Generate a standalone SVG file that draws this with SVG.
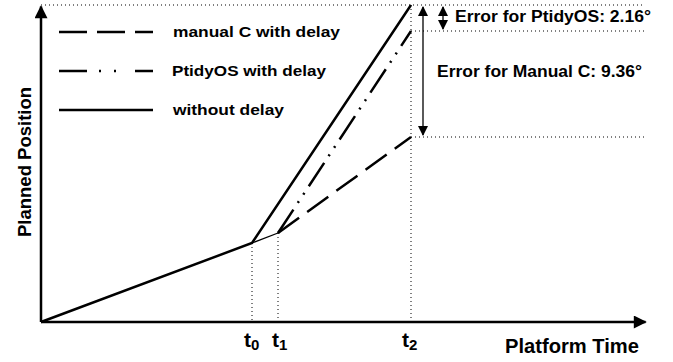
<svg xmlns="http://www.w3.org/2000/svg" width="673" height="362" viewBox="0 0 673 362">
<style>
text{font-family:"Liberation Sans",Arial,sans-serif;font-weight:bold;fill:#000}
.ax{stroke:#000;stroke-width:2.5;fill:none}
.ln{stroke:#000;stroke-width:2.5;fill:none}
.dot{stroke:#000;stroke-width:1;stroke-dasharray:1 3;fill:none}
.thin{stroke:#000;stroke-width:1.3;fill:none}
</style>
<defs>
<marker id="ah" viewBox="0 0 10 10" refX="9" refY="5" markerWidth="10" markerHeight="10" markerUnits="userSpaceOnUse" orient="auto-start-reverse"><path d="M0,0 L10,5 L0,10 z" fill="#000"/></marker>
<marker id="big" viewBox="0 0 10 10" refX="9" refY="5" markerWidth="14" markerHeight="13" markerUnits="userSpaceOnUse" orient="auto"><path d="M0,0 L10,5 L0,10 z" fill="#000"/></marker>
</defs>
<g id="guides">
<path class="dot" d="M41,5 H645 M411,31 H645 M411,137 H645 M252,243 V322 M278,233 V322 M411,5 V322"/>
</g>
<g id="axes">
<path class="ax" d="M41,322 V6.5" marker-end="url(#big)"/>
<path class="ax" d="M41,322 H645.5" marker-end="url(#big)"/>
</g>
<g id="connectors">
<path class="ln" d="M41,322 L252,243 L411,5"/>
<path class="thin" d="M252,243 L278,233"/>
<path class="ln" d="M278,233 L411,31" stroke-dasharray="28 8 2 8 2 8"/>
<path class="ln" d="M278,233 L411,137" stroke-dasharray="26 10"/>
<path class="thin" d="M423,7 V135" marker-start="url(#ah)" marker-end="url(#ah)"/>
<path class="thin" d="M443,7 V29" marker-start="url(#ah)" marker-end="url(#ah)"/>
</g>
<g id="legend">
<path class="ln" d="M59,32 H153" stroke-dasharray="28 10"/>
<path class="ln" d="M59,71 H87 M135,71 H153"/>
<path class="ln" d="M99,71 h2 M114,71 h2"/>
<path class="ln" d="M59,110 H153"/>
<text x="173" y="37" font-size="15" textLength="167" lengthAdjust="spacingAndGlyphs">manual C with delay</text>
<text x="172" y="76" font-size="15" textLength="154" lengthAdjust="spacingAndGlyphs">PtidyOS with delay</text>
<text x="173" y="115" font-size="15" textLength="111" lengthAdjust="spacingAndGlyphs">without delay</text>
</g>
<g id="labels">
<text x="455" y="22" font-size="16" textLength="196" lengthAdjust="spacingAndGlyphs">Error for PtidyOS: 2.16°</text>
<text x="437" y="77" font-size="16" textLength="205" lengthAdjust="spacingAndGlyphs">Error for Manual C: 9.36°</text>
<text x="505" y="353" font-size="19.5" textLength="134" lengthAdjust="spacingAndGlyphs">Platform Time</text>
<text transform="translate(31,162) rotate(-90)" font-size="18.5" text-anchor="middle">Planned Position</text>
<text x="244" y="347" font-size="21">t<tspan font-size="15" dy="3">0</tspan></text>
<text x="272" y="347" font-size="21">t<tspan font-size="15" dy="3">1</tspan></text>
<text x="402" y="347" font-size="21">t<tspan font-size="15" dy="3">2</tspan></text>
</g>
</svg>
